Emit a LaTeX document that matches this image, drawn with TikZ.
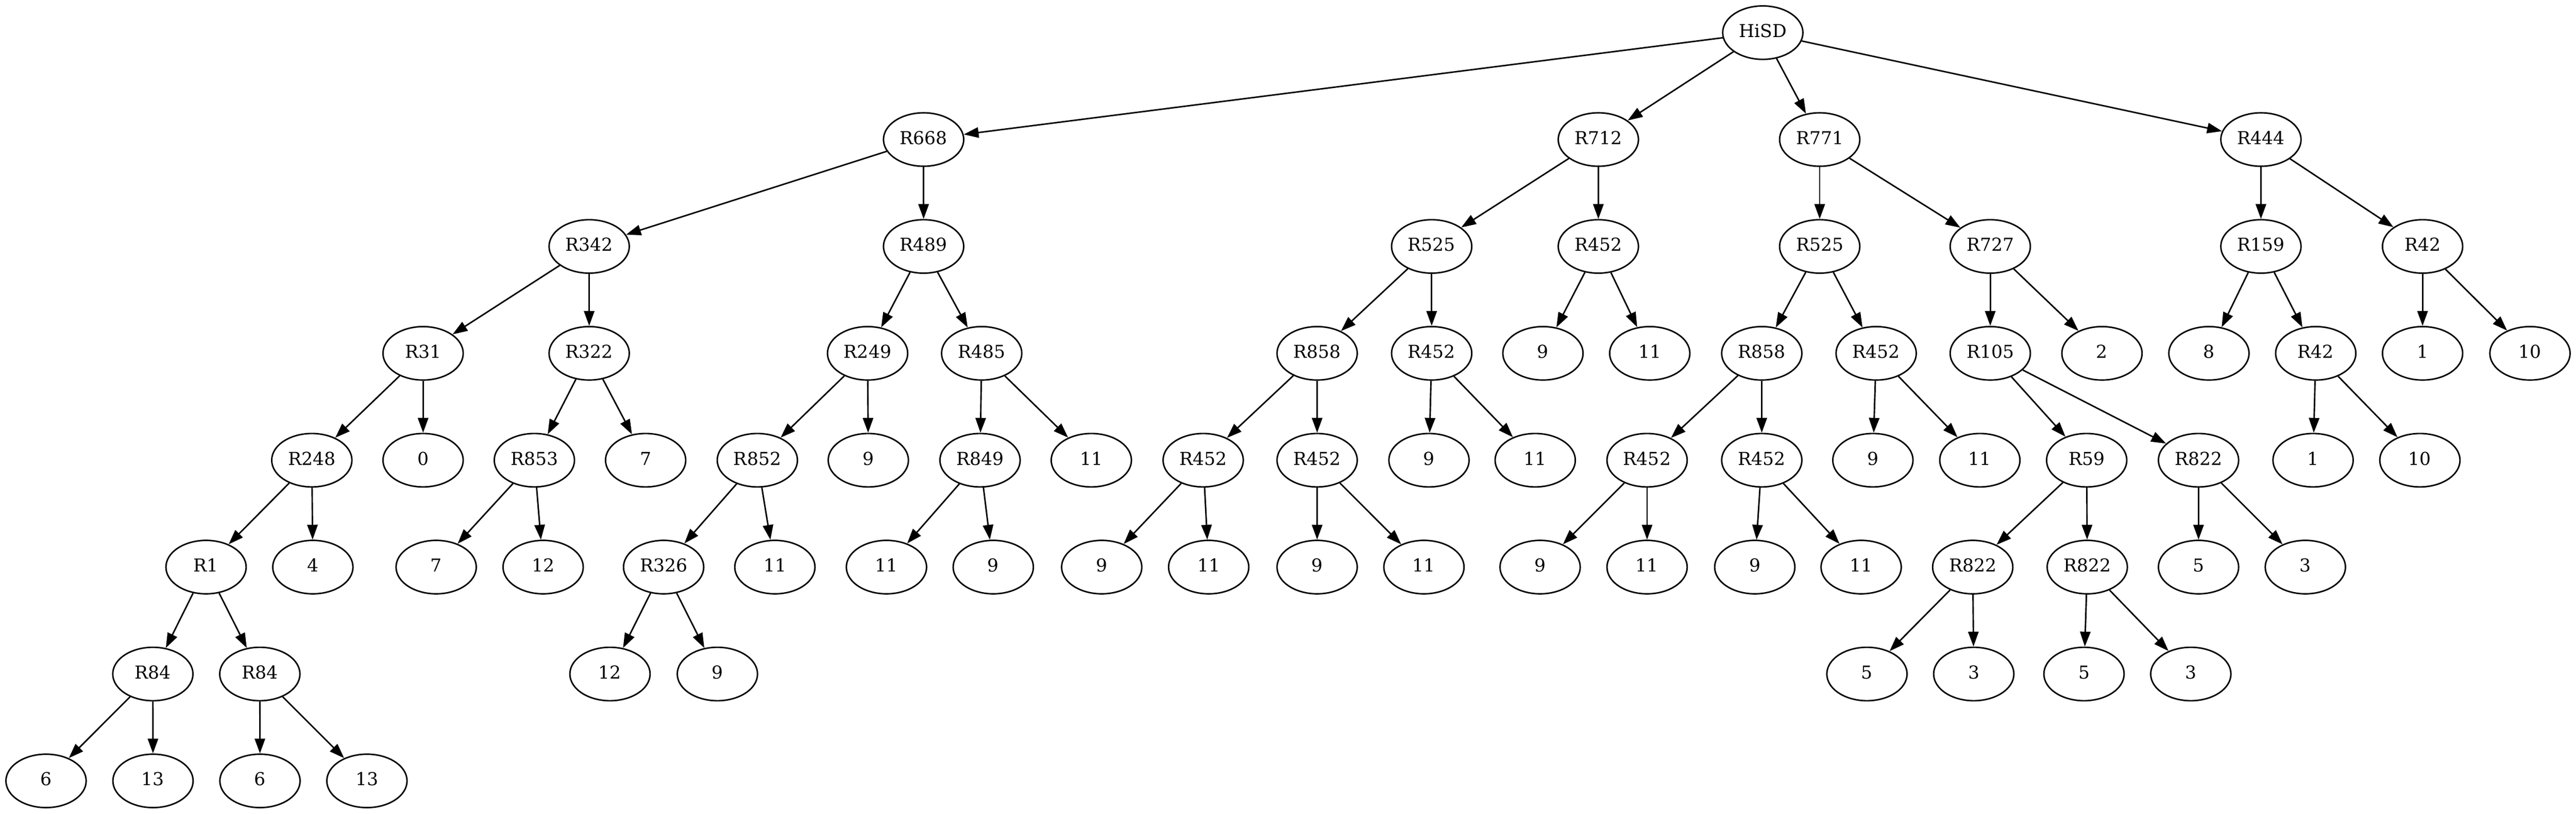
\documentclass[tikz,border=0pt]{standalone}
\usepackage{fontspec}
\setmainfont{DejaVu Serif}
\usetikzlibrary{shapes.geometric,arrows.meta}
\begin{document}
\begin{tikzpicture}[x=1bp,y=1bp,
  nd/.style={draw,ellipse,line width=1bp,minimum width=54bp,minimum height=36bp,inner sep=0pt,text height=8.75bp,text depth=2.4bp,font=\fontsize{12bp}{14bp}\selectfont},
  ed/.style={line width=1bp,-{Triangle[length=10bp,width=7bp]}}]
\fill[white] (0,0) rectangle (1734,548);
\useasboundingbox (0,0) rectangle (1734,548);
% level 0
\node[nd] (hisd) at (1186.6,526) {HiSD};
% level 1
\node[nd] (r668) at (621.7,454) {R668};
\node[nd] (r712) at (1075.9,454) {R712};
\node[nd] (r771) at (1224.9,454) {R771};
\node[nd] (r444) at (1521.9,454) {R444};
% level 2
\node[nd] (r342) at (396.6,382) {R342};
\node[nd] (r489) at (621.7,382) {R489};
\node[nd] (r525a) at (963.7,382) {R525};
\node[nd] (r452a) at (1075.9,382) {R452};
\node[nd] (r525b) at (1224.9,382) {R525};
\node[nd] (r727) at (1339.7,382) {R727};
\node[nd] (r159) at (1521.9,382) {R159};
\node[nd] (r42a) at (1630.7,382) {R42};
% level 3
\node[nd] (r31) at (284.8,310) {R31};
\node[nd] (r322) at (396.6,310) {R322};
\node[nd] (r249) at (584,310) {R249};
\node[nd] (r485) at (660.8,310) {R485};
\node[nd] (r858a) at (886.6,310) {R858};
\node[nd] (r452b) at (963.7,310) {R452};
\node[nd] (n9a) at (1038.6,310) {9};
\node[nd] (n11a) at (1110.5,310) {11};
\node[nd] (r858b) at (1185.9,310) {R858};
\node[nd] (r452c) at (1262.9,310) {R452};
\node[nd] (r105) at (1339.7,310) {R105};
\node[nd] (n2) at (1414.9,310) {2};
\node[nd] (n8) at (1486.9,310) {8};
\node[nd] (r42b) at (1558.8,310) {R42};
\node[nd] (n1a) at (1630.7,310) {1};
\node[nd] (n10a) at (1703,310) {10};
% level 4
\node[nd] (r248) at (209.9,238) {R248};
\node[nd] (n0) at (284.8,238) {0};
\node[nd] (r853) at (359.7,238) {R853};
\node[nd] (n7a) at (434.6,238) {7};
\node[nd] (r852) at (509.8,238) {R852};
\node[nd] (n9b) at (584.5,238) {9};
\node[nd] (r849) at (659.7,238) {R849};
\node[nd] (n11b) at (734.6,238) {11};
\node[nd] (r452d) at (809.9,238) {R452};
\node[nd] (r452e) at (886.6,238) {R452};
\node[nd] (n9c) at (961.9,238) {9};
\node[nd] (n11c) at (1033.4,238) {11};
\node[nd] (r452f) at (1108.7,238) {R452};
\node[nd] (r452g) at (1185.9,238) {R452};
\node[nd] (n9d) at (1260.7,238) {9};
\node[nd] (n11d) at (1332.7,238) {11};
\node[nd] (r59) at (1404.6,238) {R59};
\node[nd] (r822a) at (1479.9,238) {R822};
\node[nd] (n1b) at (1557.0,238) {1};
\node[nd] (n10b) at (1628.9,238) {10};
% level 5
\node[nd] (r1) at (138.7,166) {R1};
\node[nd] (n4) at (210.6,166) {4};
\node[nd] (n7b) at (293.6,166) {7};
\node[nd] (n12a) at (365.6,166) {12};
\node[nd] (r326) at (446.7,166) {R326};
\node[nd] (n11e) at (521.6,166) {11};
\node[nd] (n11f) at (596.7,166) {11};
\node[nd] (n9e) at (668.6,166) {9};
\node[nd] (n9f) at (741.6,166) {9};
\node[nd] (n11g) at (813.6,166) {11};
\node[nd] (n9g) at (886.6,166) {9};
\node[nd] (n11h) at (958.5,166) {11};
\node[nd] (n9h) at (1036.7,166) {9};
\node[nd] (n11i) at (1108.7,166) {11};
\node[nd] (n9i) at (1181.2,166) {9};
\node[nd] (n11j) at (1252.8,166) {11};
\node[nd] (r822b) at (1327.9,166) {R822};
\node[nd] (r822c) at (1405.0,166) {R822};
\node[nd] (n5a) at (1479.9,166) {5};
\node[nd] (n3a) at (1551.8,166) {3};
% level 6
\node[nd] (r84a) at (102.9,94) {R84};
\node[nd] (r84b) at (174.9,94) {R84};
\node[nd] (n12b) at (410.6,94) {12};
\node[nd] (n9j) at (482.9,94) {9};
\node[nd] (n5b) at (1256.7,94) {5};
\node[nd] (n3b) at (1328.6,94) {3};
\node[nd] (n5c) at (1402.8,94) {5};
\node[nd] (n3c) at (1474.7,94) {3};
% level 7
\node[nd] (n6a) at (31,22) {6};
\node[nd] (n13a) at (103,22) {13};
\node[nd] (n6b) at (175,22) {6};
\node[nd] (n13b) at (247,22) {13};
% edges
\foreach \a/\b in {hisd/r668,hisd/r712,hisd/r771,hisd/r444,
  r668/r342,r668/r489,r712/r525a,r712/r452a,r771/r525b,r771/r727,r444/r159,r444/r42a,
  r342/r31,r342/r322,r489/r249,r489/r485,r525a/r858a,r525a/r452b,r452a/n9a,r452a/n11a,
  r525b/r858b,r525b/r452c,r727/r105,r727/n2,r159/n8,r159/r42b,r42a/n1a,r42a/n10a,
  r31/r248,r31/n0,r322/r853,r322/n7a,r249/r852,r249/n9b,r485/r849,r485/n11b,
  r858a/r452d,r858a/r452e,r452b/n9c,r452b/n11c,r858b/r452f,r858b/r452g,r452c/n9d,r452c/n11d,
  r105/r59,r105/r822a,r42b/n1b,r42b/n10b,
  r248/r1,r248/n4,r853/n7b,r853/n12a,r852/r326,r852/n11e,r849/n11f,r849/n9e,
  r452d/n9f,r452d/n11g,r452e/n9g,r452e/n11h,r452f/n9h,r452f/n11i,r452g/n9i,r452g/n11j,
  r59/r822b,r59/r822c,r822a/n5a,r822a/n3a,
  r1/r84a,r1/r84b,r326/n12b,r326/n9j,r822b/n5b,r822b/n3b,r822c/n5c,r822c/n3c,
  r84a/n6a,r84a/n13a,r84b/n6b,r84b/n13b}
  \draw[ed] (\a) -- (\b);
\end{tikzpicture}
\end{document}
